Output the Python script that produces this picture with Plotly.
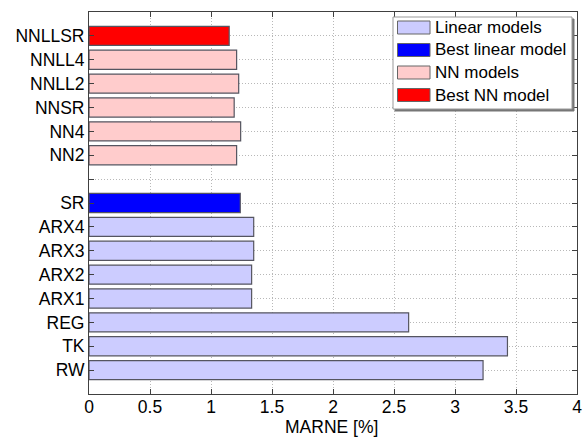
import plotly.graph_objects as go

# Data (category_order is bottom-to-top)
category_order = ["RW", "TK", "REG", "ARX1", "ARX2", "ARX3", "ARX4", "SR", " ",
                  "NN2", "NN4", "NNSR", "NNLL2", "NNLL4", "NNLLSR"]

linear_names = ["RW", "TK", "REG", "ARX1", "ARX2", "ARX3", "ARX4"]
linear_vals = [3.23, 3.43, 2.62, 1.333, 1.333, 1.35, 1.35]

best_linear_names = ["SR"]
best_linear_vals = [1.24]

nn_names = ["NN2", "NN4", "NNSR", "NNLL2", "NNLL4"]
nn_vals = [1.21, 1.243, 1.19, 1.227, 1.21]

best_nn_names = ["NNLLSR"]
best_nn_vals = [1.149]

legend_labels = ["Linear models", "Best linear model", "NN models", "Best NN model"]
colors = ["#ccccff", "#0000ff", "#ffcccc", "#ff0000"]

x_ticks = [0, 0.5, 1, 1.5, 2, 2.5, 3, 3.5, 4]
x_tick_text = ["0", "0.5", "1", "1.5", "2", "2.5", "3", "3.5", "4"]
x_title = "MARNE [%]"

FONT = "Liberation Sans, Arial, sans-serif"
W, H = 586, 437
L, R, T, B = 89, 9, 12, 43

fig = go.Figure()
groups = [(linear_names, linear_vals), (best_linear_names, best_linear_vals),
          (nn_names, nn_vals), (best_nn_names, best_nn_vals)]
for (names, vals), lab, col in zip(groups, legend_labels, colors):
    fig.add_trace(go.Bar(
        y=names, x=vals, orientation="h", name=lab, width=0.8,
        marker=dict(color=col, line=dict(color="#555560", width=1.2)),
        showlegend=False,
    ))

# custom MATLAB-like legend
pw, ph = W - L - R, H - T - B
def px(x):
    return (x - L) / pw
def py(y):
    return 1 - (y - T) / ph

shapes = [
    dict(type="rect", xref="paper", yref="paper",
         x0=px(395), x1=px(574), y0=py(111), y1=py(19),
         line=dict(color="#777777", width=1), fillcolor="#777777", layer="above"),
    dict(type="rect", xref="paper", yref="paper",
         x0=px(393), x1=px(572), y0=py(109), y1=py(17),
         line=dict(color="#999999", width=1), fillcolor="white", layer="above"),
]
annotations = []
row_y = [27.5, 50, 72.5, 95]
for ry, lab, col in zip(row_y, legend_labels, colors):
    shapes.append(dict(type="rect", xref="paper", yref="paper",
                       x0=px(397.5), x1=px(430), y0=py(ry + 6.5), y1=py(ry - 6.5),
                       line=dict(color="#666666", width=1), fillcolor=col, layer="above"))
    annotations.append(dict(xref="paper", yref="paper", x=px(432.5), y=py(ry),
                            text=lab, showarrow=False, xanchor="left", yanchor="middle",
                            font=dict(family=FONT, size=17, color="black")))
annotations.append(dict(xref="paper", yref="paper", x=px(331), y=py(427),
                        text=x_title, showarrow=False, xanchor="center", yanchor="middle",
                        borderpad=0,
                        font=dict(family=FONT, size=17.5, color="black")))

fig.update_layout(
    width=W, height=H,
    margin=dict(l=L, r=R, t=T, b=B, autoexpand=False),
    paper_bgcolor="white", plot_bgcolor="white",
    font=dict(family=FONT, size=17.5, color="black"),
    barmode="overlay",
    shapes=shapes, annotations=annotations,
)
grid = dict(showgrid=True, gridcolor="#b8b8b8", griddash="1px,2px", gridwidth=1)
fig.update_xaxes(
    range=[0, 4], tickvals=x_ticks, ticktext=x_tick_text, **grid,
    showline=True, linecolor="#404040", linewidth=1, mirror="ticks",
    ticks="inside", ticklen=5, tickcolor="#404040",
    zeroline=False, automargin=False, ticklabelstandoff=-3,
    tickfont=dict(size=17.5),
)
fig.update_yaxes(
    type="category", categoryorder="array", categoryarray=category_order,
    range=[-1, 15], automargin=False, **grid,
    showline=True, linecolor="#404040", linewidth=1, mirror="ticks",
    ticks="inside", ticklen=5, tickcolor="#404040",
    tickfont=dict(size=17.5),
)

fig.write_html("out.html", config={"displayModeBar": False},
               post_script="document.body.style.margin='0px';")
